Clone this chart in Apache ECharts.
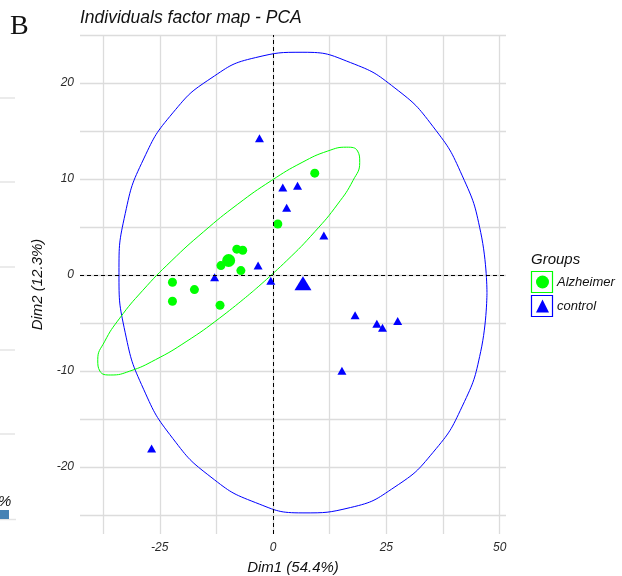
<!DOCTYPE html>
<html><head><meta charset="utf-8">
<script src="https://cdn.jsdelivr.net/npm/echarts@6/dist/echarts.min.js"></script>
<style>html,body{margin:0;padding:0;background:#fff}#c{width:622px;height:576px}</style>
</head><body><div id="c"></div>
<script>
// ---- data ----
const alzheimerX = [9.2, 1.05, -8.0, -6.7, -11.5, -7.1, -22.2, -17.35, -22.2, -11.7];
const alzheimerY = [10.6, 5.3, 2.68, 2.57, 0.97, 0.45, -0.76, -1.53, -2.74, -3.16];
const controlX = [-3.0, 2.15, 5.4, 3.0, 11.2, -3.3, -12.9, -0.5, 18.1, 22.9, 24.15, 27.5, 15.2, -26.8];
const controlY = [14.25, 9.1, 9.3, 7.0, 4.1, 0.97, -0.24, -0.6, -4.2, -5.1, -5.5, -4.8, -10.0, -18.1];
const alzheimerCentroid = [-9.8, 1.5];
const controlCentroid = [6.6, -0.87];
// concentration ellipse outlines
const ellipseAlzX = [-4.24, -11.77, -19.19, -25.96, -31.63, -35.81, -38.21, -38.68, -37.2, -33.82, -28.8, -22.49, -15.32, -7.79, -0.36, 6.4, 12.08, 16.25, 18.65, 19.12, 17.64, 14.26, 9.25, 2.94, -4.24];
const ellipseAlzY = [-1.63, -4.49, -6.96, -8.84, -10.03, -10.43, -10.03, -8.84, -6.97, -4.50, -1.64, 1.43, 4.50, 7.37, 9.83, 11.72, 12.91, 13.31, 12.91, 11.72, 9.84, 7.38, 4.52, 1.45, -1.63];
const ellipseCtrlX = [47.2, 45.82, 41.76, 35.31, 26.9, 17.11, 6.6, -3.91, -13.7, -22.11, -28.56, -32.62, -34.0, -32.62, -28.56, -22.11, -13.7, -3.91, 6.6, 17.11, 26.9, 35.31, 41.76, 45.82, 47.2];
const ellipseCtrlY = [-1.82, 4.43, 10.32, 15.45, 19.47, 22.12, 23.2, 22.64, 20.49, 16.89, 12.08, 6.39, 0.22, -6.03, -11.92, -17.05, -21.07, -23.72, -24.8, -24.24, -22.09, -18.49, -13.68, -7.99, -1.82];
// axes
const xGridValues = [-37.5, -25, -12.5, 0, 12.5, 25, 37.5, 50];
const xTickLabels = [-25, 0, 25, 50];
const yGridValues = [-25, -20, -15, -10, -5, 0, 5, 10, 15, 20, 25];
const yTickLabels = [-20, -10, 0, 10, 20];
const groups = ['Alzheimer', 'control'];

const FONT = '"Liberation Sans", Arial, sans-serif';
const zip = (xs, ys) => xs.map((x, i) => [x, ys[i]]);
const textBase = { fontFamily: FONT, fontStyle: 'italic', fontWeight: 'normal' };

const chart = echarts.init(document.getElementById('c'), null, { renderer: 'canvas' });
chart.setOption({
  animation: false,
  backgroundColor: '#ffffff',
  title: [
    { text: 'B', left: 10, top: 13, padding: 0,
      textStyle: { fontFamily: '"Liberation Serif", "Times New Roman", serif', fontSize: 28, fontWeight: 'normal', color: '#111' } },
    { text: 'Individuals factor map - PCA', left: 80, top: 9, padding: 0,
      textStyle: Object.assign({}, textBase, { fontSize: 17.5, color: '#111' }) },
    { text: 'Groups', left: 531, top: 252, padding: 0,
      textStyle: Object.assign({}, textBase, { fontSize: 15, color: '#111' }) }
  ],
  legend: {
    orient: 'vertical', left: 536, top: 275.5, padding: 0,
    itemWidth: 13, itemHeight: 13, itemGap: 11,
    data: [{ name: groups[0], icon: 'circle' }, { name: groups[1], icon: 'triangle' }],
    textStyle: Object.assign({}, textBase, { fontSize: 13, color: '#111', padding: [0, 0, 0, 3] })
  },
  grid: { left: 80, right: 116, top: 35, bottom: 42, containLabel: false, outerBoundsMode: 'none' },
  xAxis: {
    type: 'value', min: -42.6, max: 51.4,
    axisLine: { show: false },
    axisTick: { show: false, customValues: xGridValues },
    axisLabel: Object.assign({ customValues: xTickLabels, margin: 8, fontSize: 12, color: '#2a2a2a' }, textBase),
    splitLine: { show: true, lineStyle: { color: '#dcdcdc', width: 1.3 } },
    name: 'Dim1 (54.4%)', nameLocation: 'middle', nameGap: 26,
    nameTextStyle: Object.assign({}, textBase, { fontSize: 15, color: '#111' })
  },
  yAxis: {
    type: 'value', min: -27, max: 25,
    axisLine: { show: false },
    axisTick: { show: false, customValues: yGridValues },
    axisLabel: Object.assign({ customValues: yTickLabels, margin: 6, fontSize: 12, color: '#2a2a2a' }, textBase),
    splitLine: { show: true, lineStyle: { color: '#dcdcdc', width: 1.3 } },
    name: 'Dim2 (12.3%)', nameLocation: 'middle', nameGap: 34,
    nameTextStyle: Object.assign({}, textBase, { fontSize: 15, color: '#111' })
  },
  graphic: [
    { type: 'rect', shape: { x: 531.5, y: 271.5, width: 21, height: 21 }, style: { fill: 'none', stroke: '#00ff00', lineWidth: 1.2 } },
    { type: 'rect', shape: { x: 531.5, y: 295.5, width: 21, height: 21 }, style: { fill: 'none', stroke: '#0000ff', lineWidth: 1.2 } },
    // fragments of the neighbouring panel at the left edge
    { type: 'line', shape: { x1: 0, y1: 98, x2: 15, y2: 98 }, style: { stroke: '#e4e4e4', lineWidth: 1.5 } },
    { type: 'line', shape: { x1: 0, y1: 182, x2: 15, y2: 182 }, style: { stroke: '#e4e4e4', lineWidth: 1.5 } },
    { type: 'line', shape: { x1: 0, y1: 267, x2: 15, y2: 267 }, style: { stroke: '#e4e4e4', lineWidth: 1.5 } },
    { type: 'line', shape: { x1: 0, y1: 350, x2: 15, y2: 350 }, style: { stroke: '#e4e4e4', lineWidth: 1.5 } },
    { type: 'line', shape: { x1: 0, y1: 434, x2: 15, y2: 434 }, style: { stroke: '#e4e4e4', lineWidth: 1.5 } },
    { type: 'line', shape: { x1: 0, y1: 519.5, x2: 16, y2: 519.5 }, style: { stroke: '#e4e4e4', lineWidth: 1.5 } },
    { type: 'rect', shape: { x: 0, y: 510, width: 9, height: 9 }, style: { fill: '#4682b4' } },
    { type: 'text', left: -2, top: 494, style: { text: '%', font: 'italic 15px "Liberation Sans", Arial, sans-serif', fill: '#111' } }
  ],
  series: [
    { type: 'line', name: 'zero-lines', data: [], silent: true, z: 1,
      markLine: { silent: true, symbol: 'none', label: { show: false }, animation: false,
        lineStyle: { color: '#000', type: [4, 3], width: 1 },
        data: [{ xAxis: 0 }, { yAxis: 0 }] } },
    { type: 'line', name: 'ellipse-control', data: zip(ellipseCtrlX, ellipseCtrlY), smooth: true,
      showSymbol: false, symbol: 'none', silent: true, z: 2, lineStyle: { color: '#0000ff', width: 1 } },
    { type: 'line', name: 'ellipse-alzheimer', data: zip(ellipseAlzX, ellipseAlzY), smooth: true,
      showSymbol: false, symbol: 'none', silent: true, z: 2, lineStyle: { color: '#00ff00', width: 1 } },
    { type: 'scatter', name: groups[1], symbol: 'triangle', symbolSize: [9, 8], z: 3,
      itemStyle: { color: '#0000ff', opacity: 1 },
      data: zip(controlX, controlY).concat([{ value: controlCentroid, symbolSize: [17, 14] }]) },
    { type: 'scatter', name: groups[0], symbol: 'circle', symbolSize: 9, z: 3,
      itemStyle: { color: '#00ff00', opacity: 1 },
      data: zip(alzheimerX, alzheimerY).concat([{ value: alzheimerCentroid, symbolSize: 13 }]) }
  ]
});
</script>
</body></html>
